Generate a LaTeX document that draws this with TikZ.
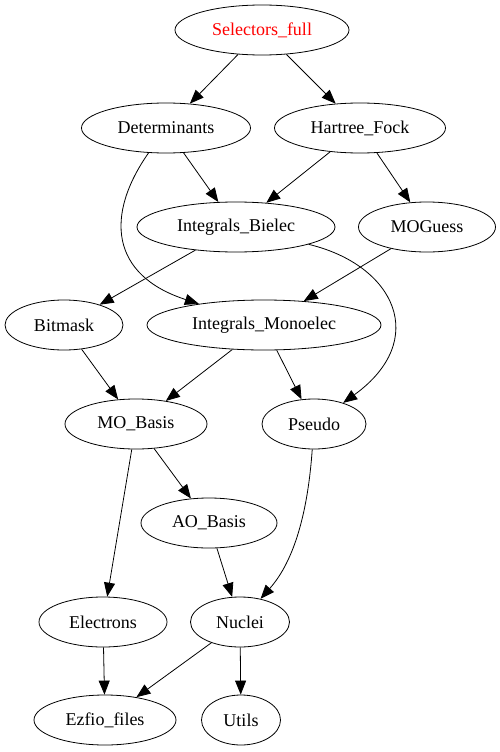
\documentclass[tikz,border=0pt]{standalone}
\usepackage{fontspec}
\setmainfont{Liberation Serif}
\usetikzlibrary{shapes.geometric,arrows.meta}
\begin{document}
\begin{tikzpicture}[
      x=1pt, y=-1pt,
      every node/.style={font=\fontsize{18}{20}\selectfont},
      module/.style={ellipse, draw=black, thick, inner sep=0pt, minimum height=50pt},
      dep/.style={-{Triangle[length=14pt,width=11pt]}, thick}
    ]
    \useasboundingbox (0,0) rectangle (500,752);

    \node[module, minimum width=174pt, text=red] (sel) at (262,30) {Selectors\_full};

    \node[module, minimum width=169pt] (det) at (166,128) {Determinants};
    \node[module, minimum width=171pt] (hf) at (360,128) {Hartree\_Fock};

    \node[module, minimum width=198pt] (bi) at (236,227) {Integrals\_Bielec};
    \node[module, minimum width=137pt] (mog) at (427,227) {MOGuess};

    \node[module, minimum width=118pt] (bit) at (64,325) {Bitmask};
    \node[module, minimum width=234pt] (mono) at (264,325) {Integrals\_Monoelec};

    \node[module, minimum width=142pt] (mo) at (136,424) {MO\_Basis};
    \node[module, minimum width=104pt] (ps) at (314,424) {Pseudo};

    \node[module, minimum width=136pt] (ao) at (209,523) {AO\_Basis};

    \node[module, minimum width=128pt] (el) at (103,622) {Electrons};
    \node[module, minimum width=99pt] (nuc) at (240,622) {Nuclei};

    \node[module, minimum width=142pt] (ez) at (105,720) {Ezfio\_files};
    \node[module, minimum width=79pt] (ut) at (241,720) {Utils};

    \draw[dep] (sel) -- (det);
    \draw[dep] (sel) -- (hf);
    \draw[dep] (det) -- (bi);
    \draw[dep] (det) .. controls (105,215) and (110,275) .. (mono);
    \draw[dep] (hf) -- (bi);
    \draw[dep] (hf) -- (mog);
    \draw[dep] (bi) -- (bit);
    \draw[dep] (bi) .. controls (395,265) and (430,340) .. (ps);
    \draw[dep] (mog) -- (mono);
    \draw[dep] (bit) -- (mo);
    \draw[dep] (mono) -- (mo);
    \draw[dep] (mono) -- (ps);
    \draw[dep] (mo) -- (ao);
    \draw[dep] (mo) -- (el);
    \draw[dep] (ao) -- (nuc);
    \draw[dep] (ps) .. controls (308,510) and (295,560) .. (nuc);
    \draw[dep] (el) -- (ez);
    \draw[dep] (nuc) -- (ez);
    \draw[dep] (nuc) -- (ut);

  \end{tikzpicture}
\end{document}
